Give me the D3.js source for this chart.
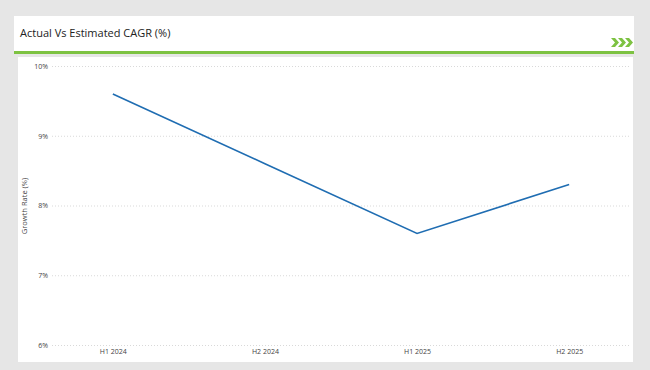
<html>
<script src='https://d3js.org/d3.v7.min.js'></script>
<style>
body {margin: 0; background: #e6e6e6;}
text {font-family: 'Open Sans', 'Liberation Sans', sans-serif;}
.grid line {stroke: #d9d9d9; stroke-dasharray: 1,2;}
.grid path {display: none;}
.ax text {fill: #444; font-size: 7px;}
.ax path, .ax line {display: none;}
</style>
<body onload='init()'>
<svg width=650 height=370></svg>
<script>
// values
var periods = ['H1 2024', 'H2 2024', 'H1 2025', 'H2 2025'];
var growth = [9.6, 8.6, 7.6, 8.3];
var yTicks = [6, 7, 8, 9, 10];
var chartTitle = 'Actual Vs Estimated CAGR (%)';
var yTitle = 'Growth Rate (%)';

function init() {
var svg = d3.select('svg');

// header panel
svg.append('rect').attr('x', 14).attr('y', 16).attr('width', 620).attr('height', 36).attr('fill', '#fff');
svg.append('rect').attr('x', 14).attr('y', 51).attr('width', 620).attr('height', 3).attr('fill', '#7dc242');
svg.append('text').attr('x', 20).attr('y', 37).attr('font-size', 11).attr('fill', '#222').text(chartTitle);

// little chevrons on the right of the header
var chev = svg.append('g').attr('fill', '#7dc242');
[0, 7, 14].forEach(function (dx) {
  var x = 611 + dx;
  chev.append('path').attr('d', 'M' + x + ',38 L' + (x + 4) + ',38 L' + (x + 8) + ',42.5 L' + (x + 4) + ',47 L' + x + ',47 L' + (x + 4) + ',42.5 Z');
});

// chart panel
svg.append('rect').attr('x', 18).attr('y', 57).attr('width', 615).attr('height', 305).attr('fill', '#fff');

var x = d3.scalePoint().domain(periods).range([52, 630]).padding(0.4);
var y = d3.scaleLinear().domain([6, 10]).range([345, 66]);

svg.append('g').attr('class', 'grid').attr('transform', 'translate(52,0)')
  .call(d3.axisLeft(y).tickValues(yTicks).tickSize(-578).tickFormat(''));

svg.append('g').attr('class', 'ax').attr('transform', 'translate(52,0)')
  .call(d3.axisLeft(y).tickValues(yTicks).tickSize(0).tickPadding(4).tickFormat(function (d) { return d + '%'; }));

svg.append('g').attr('class', 'ax').attr('transform', 'translate(0,345)')
  .call(d3.axisBottom(x).tickSize(0).tickPadding(4));

svg.append('text').attr('transform', 'translate(27,206) rotate(-90)').attr('text-anchor', 'middle')
  .attr('font-size', 7.5).attr('fill', '#444').text(yTitle);

var line = d3.line().x(function (d, i) { return x(periods[i]); }).y(function (d) { return y(d); });
svg.append('path').datum(growth).attr('d', line).attr('fill', 'none')
  .attr('stroke', '#1f6db2').attr('stroke-width', 1.6);
}
</script>
</body>
</html>
